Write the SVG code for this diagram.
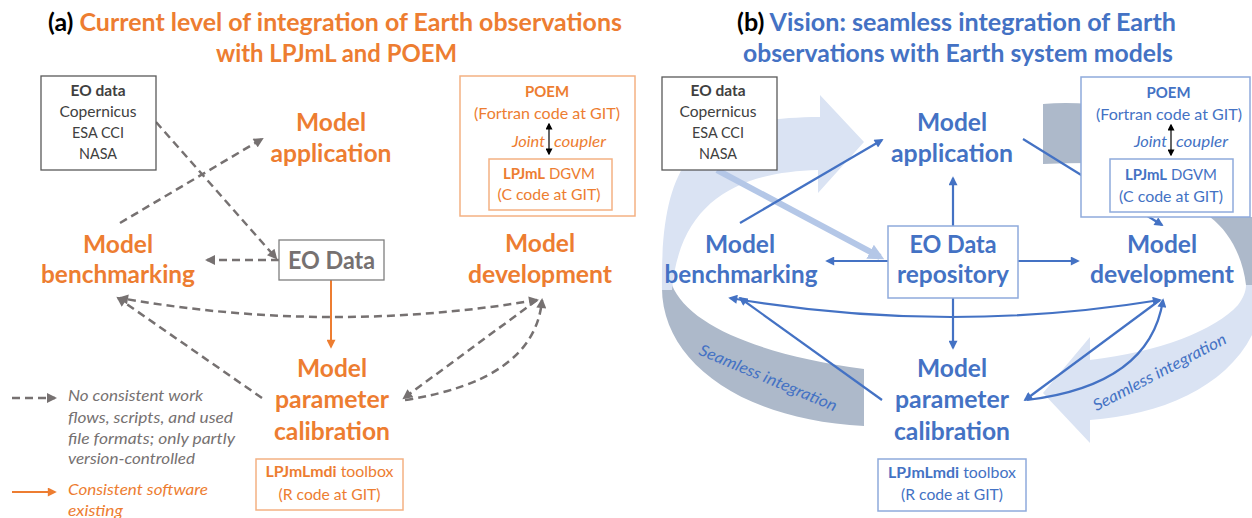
<svg xmlns="http://www.w3.org/2000/svg" width="1252" height="518" viewBox="0 0 1252 518">
<style>
text{font-family:Lato,"Liberation Sans",sans-serif}
.title{font-size:24px;font-weight:bold}
.big{font-size:24px;font-weight:bold;text-anchor:middle}
.sm{font-size:16px;text-anchor:middle}
.b{font-weight:bold}
.it{font-style:italic}
.or{fill:#ED7D31}
.bl{fill:#4472C4}
.gy{fill:#767171}
.dk{fill:#404040}
.boxg{fill:#fff;stroke:#595959;stroke-width:1.3}
.boxo{fill:#fff;stroke:#F4B183;stroke-width:1.5}
.boxb{fill:#fff;stroke:#8FAADC;stroke-width:1.5}
.dash{fill:none;stroke:#767171;stroke-width:2.5;stroke-dasharray:8 5}
.blue{fill:none;stroke:#4472C4;stroke-width:2.2}
.ringL{fill:#DAE3F3}
.ringD{fill:#ADB9CA}
</style>
<defs>
<marker id="ag" viewBox="0 0 10 10" refX="8" refY="5" markerWidth="11" markerHeight="10" markerUnits="userSpaceOnUse" orient="auto-start-reverse"><path d="M0,0 L10,5 L0,10 z" fill="#767171"/></marker>
<marker id="ao" viewBox="0 0 10 10" refX="8" refY="5" markerWidth="10" markerHeight="9" markerUnits="userSpaceOnUse" orient="auto-start-reverse"><path d="M0,0 L10,5 L0,10 z" fill="#ED7D31"/></marker>
<marker id="ab" viewBox="0 0 10 10" refX="8" refY="5" markerWidth="10" markerHeight="9" markerUnits="userSpaceOnUse" orient="auto-start-reverse"><path d="M0,0 L10,5 L0,10 z" fill="#4472C4"/></marker>
<marker id="ak" viewBox="0 0 10 10" refX="8" refY="5" markerWidth="7" markerHeight="7" markerUnits="userSpaceOnUse" orient="auto-start-reverse"><path d="M0,0 L10,5 L0,10 z" fill="#000"/></marker>
<marker id="alb" viewBox="0 0 10 10" refX="7" refY="5" markerWidth="16" markerHeight="17" markerUnits="userSpaceOnUse" orient="auto"><path d="M0,0 L10,5 L0,10 z" fill="#B4C7E7"/></marker>
</defs>
<rect width="1252" height="518" fill="#fff"/>

<!-- titles -->
<g id="title-a">
<text class="title" x="48" y="31" textLength="574" lengthAdjust="spacingAndGlyphs"><tspan fill="#000">(a)</tspan><tspan class="or"> Current level of integration of Earth observations</tspan></text>
<text class="title or" x="216" y="62" textLength="241" lengthAdjust="spacingAndGlyphs">with LPJmL and POEM</text>
</g>
<g id="title-b">
<text class="title" x="737" y="31" textLength="439" lengthAdjust="spacingAndGlyphs"><tspan fill="#000">(b)</tspan><tspan class="bl"> Vision: seamless integration of Earth</tspan></text>
<text class="title bl" x="743" y="62" textLength="430" lengthAdjust="spacingAndGlyphs">observations with Earth system models</text>
</g>

<!-- seamless integration ring (panel b) -->
<g id="ring">
<path class="ringD" d="M662,285 C660,360 740,420 864,426 L864,369 C760,355 688,325 672,285 Z"/>
<path class="ringL" d="M662,290 C660,150 700,118 820,117 L820,95 L864,142 L818,193 L818,170 C740,172 680,200 672,290 Z"/>
<path class="ringD" d="M1043,104 Q1065,102 1090,104 L1090,163 Q1065,163 1043,164 Z"/>
<path class="ringD" d="M1210,217 L1252,217 L1252,285 L1246,285 C1243,258 1230,232 1210,217 Z"/>
<path class="ringL" d="M1246,285 L1252,285 L1252,335 C1225,388 1160,415 1090,420 L1090,443 L1043,393 L1090,337 L1090,360 C1160,352 1215,330 1238,305 C1243,298 1246,292 1246,285 Z"/>
<text class="it bl" font-size="16" text-anchor="middle" transform="translate(766,383) rotate(22.8)" textLength="148" lengthAdjust="spacingAndGlyphs">Seamless integration</text>
<text class="it bl" font-size="16" text-anchor="middle" transform="translate(1162,377) rotate(-27.6)" textLength="148" lengthAdjust="spacingAndGlyphs">Seamless integration</text>
</g>

<!-- connectors -->
<g id="connectors">
<!-- panel a -->
<path class="dash" d="M156,122 L276,258" marker-end="url(#ag)"/>
<path class="dash" d="M120,223 L262,139" marker-end="url(#ag)"/>
<path class="dash" d="M279,260 L207,260" marker-end="url(#ag)"/>
<path class="dash" d="M537,300 Q330,335 120,298" marker-start="url(#ag)" marker-end="url(#ag)"/>
<path class="dash" d="M262,398 L118,298" marker-end="url(#ag)"/>
<path class="dash" d="M537,300 L404,398" marker-end="url(#ag)"/>
<path class="dash" d="M405,400 Q535,380 542,300" marker-end="url(#ag)"/>
<path d="M331,280 L331,347" stroke="#ED7D31" stroke-width="2" fill="none" marker-end="url(#ao)"/>
<!-- legend lines -->
<path class="dash" d="M12,398 L55,398" marker-end="url(#ag)"/>
<path d="M12,492 L55,492" stroke="#ED7D31" stroke-width="2" fill="none" marker-end="url(#ao)"/>
<!-- panel b -->
<path d="M717,170 L880,257" stroke="#B4C7E7" stroke-width="6" fill="none" marker-end="url(#alb)"/>
<path class="blue" d="M953,226 L953,178" marker-end="url(#ab)"/>
<path class="blue" d="M1018,261 L1078,261" marker-end="url(#ab)"/>
<path class="blue" d="M888,261 L827,261" marker-end="url(#ab)"/>
<path class="blue" d="M953,298 L953,348" marker-end="url(#ab)"/>
<path class="blue" d="M740,223 L882,140" marker-end="url(#ab)"/>
<path class="blue" d="M1023,139 L1162,225" marker-end="url(#ab)"/>
<path class="blue" d="M1160,300 Q945,335 730,298" marker-start="url(#ab)" marker-end="url(#ab)"/>
<path class="blue" d="M882,400 L740,298" marker-end="url(#ab)"/>
<path class="blue" d="M1160,300 L1025,400" marker-end="url(#ab)"/>
<path class="blue" d="M1027,400 Q1150,385 1163,300" marker-end="url(#ab)"/>
</g>

<!-- panel a nodes -->
<g id="a-eo-data">
<rect class="boxg" x="41" y="76" width="115" height="94"/>
<text class="sm b dk" x="98" y="96" textLength="55" lengthAdjust="spacingAndGlyphs">EO data</text>
<text class="sm dk" x="98" y="117" textLength="77" lengthAdjust="spacingAndGlyphs">Copernicus</text>
<text class="sm dk" x="98" y="138" textLength="52" lengthAdjust="spacingAndGlyphs">ESA CCI</text>
<text class="sm dk" x="98" y="159" textLength="38" lengthAdjust="spacingAndGlyphs">NASA</text>
</g>
<g id="a-model-application">
<text class="big or" x="331" y="131" textLength="70" lengthAdjust="spacingAndGlyphs">Model</text>
<text class="big or" x="331" y="162" textLength="121" lengthAdjust="spacingAndGlyphs">application</text>
</g>
<g id="a-poem">
<rect class="boxo" x="460" y="76" width="175" height="140"/>
<text class="sm b or" x="547" y="97" textLength="44" lengthAdjust="spacingAndGlyphs">POEM</text>
<text class="sm or" x="547" y="119" textLength="146" lengthAdjust="spacingAndGlyphs">(Fortran code at GIT)</text>
<text class="it or" font-size="16" x="545" y="147" text-anchor="end" textLength="33" lengthAdjust="spacingAndGlyphs">Joint</text>
<text class="it or" font-size="16" x="554" y="147" textLength="52" lengthAdjust="spacingAndGlyphs">coupler</text>
<path d="M549,124 L549,154" stroke="#000" stroke-width="1.2" marker-start="url(#ak)" marker-end="url(#ak)"/>
<rect class="boxo" x="489" y="159" width="123" height="51"/>
<text class="sm or" x="549" y="179" textLength="92" lengthAdjust="spacingAndGlyphs"><tspan class="b">LPJmL</tspan> DGVM</text>
<text class="sm or" x="549" y="200" textLength="103" lengthAdjust="spacingAndGlyphs">(C code at GIT)</text>
</g>
<g id="a-model-benchmarking">
<text class="big or" x="118" y="253" textLength="70" lengthAdjust="spacingAndGlyphs">Model</text>
<text class="big or" x="118" y="283" textLength="154" lengthAdjust="spacingAndGlyphs">benchmarking</text>
</g>
<g id="a-eo-data-center">
<rect x="279" y="240" width="105" height="40" fill="#fff" stroke="#7F7F7F" stroke-width="1.3"/>
<text class="big gy" x="331.5" y="269" textLength="87" lengthAdjust="spacingAndGlyphs">EO Data</text>
</g>
<g id="a-model-development">
<text class="big or" x="540" y="252" textLength="70" lengthAdjust="spacingAndGlyphs">Model</text>
<text class="big or" x="540" y="283" textLength="144" lengthAdjust="spacingAndGlyphs">development</text>
</g>
<g id="a-model-calibration">
<text class="big or" x="332" y="377" textLength="70" lengthAdjust="spacingAndGlyphs">Model</text>
<text class="big or" x="332" y="408" textLength="114" lengthAdjust="spacingAndGlyphs">parameter</text>
<text class="big or" x="332" y="440" textLength="116" lengthAdjust="spacingAndGlyphs">calibration</text>
</g>
<g id="a-lpjmlmdi">
<rect class="boxo" x="256" y="459" width="147" height="51"/>
<text class="sm or" x="329.5" y="477" textLength="128" lengthAdjust="spacingAndGlyphs"><tspan class="b">LPJmLmdi</tspan> toolbox</text>
<text class="sm or" x="329.5" y="500" textLength="102" lengthAdjust="spacingAndGlyphs">(R code at GIT)</text>
</g>
<g id="legend">
<text class="it gy" font-size="16" x="68" y="401" textLength="135" lengthAdjust="spacingAndGlyphs">No consistent work</text>
<text class="it gy" font-size="16" x="68" y="423" textLength="165" lengthAdjust="spacingAndGlyphs">flows, scripts, and used</text>
<text class="it gy" font-size="16" x="68" y="444" textLength="167" lengthAdjust="spacingAndGlyphs">file formats; only partly</text>
<text class="it gy" font-size="16" x="68" y="464" textLength="127" lengthAdjust="spacingAndGlyphs">version-controlled</text>
<text class="it or" font-size="16" x="68" y="495" textLength="140" lengthAdjust="spacingAndGlyphs">Consistent software</text>
<text class="it or" font-size="16" x="68" y="516" textLength="55" lengthAdjust="spacingAndGlyphs">existing</text>
</g>

<!-- panel b nodes -->
<g id="b-eo-data">
<rect class="boxg" x="662" y="77" width="115" height="93"/>
<text class="sm b dk" x="718" y="96" textLength="55" lengthAdjust="spacingAndGlyphs">EO data</text>
<text class="sm dk" x="718" y="117" textLength="77" lengthAdjust="spacingAndGlyphs">Copernicus</text>
<text class="sm dk" x="718" y="138" textLength="52" lengthAdjust="spacingAndGlyphs">ESA CCI</text>
<text class="sm dk" x="718" y="159" textLength="38" lengthAdjust="spacingAndGlyphs">NASA</text>
</g>
<g id="b-model-application">
<text class="big bl" x="952" y="131" textLength="70" lengthAdjust="spacingAndGlyphs">Model</text>
<text class="big bl" x="952" y="162" textLength="122" lengthAdjust="spacingAndGlyphs">application</text>
</g>
<g id="b-poem">
<rect class="boxb" x="1081" y="77" width="169" height="140"/>
<text class="sm b bl" x="1168.5" y="98" textLength="44" lengthAdjust="spacingAndGlyphs">POEM</text>
<text class="sm bl" x="1169" y="120" textLength="146" lengthAdjust="spacingAndGlyphs">(Fortran code at GIT)</text>
<text class="it bl" font-size="16" x="1167" y="147" text-anchor="end" textLength="33" lengthAdjust="spacingAndGlyphs">Joint</text>
<text class="it bl" font-size="16" x="1176" y="147" textLength="52" lengthAdjust="spacingAndGlyphs">coupler</text>
<path d="M1171,125 L1171,155" stroke="#000" stroke-width="1.2" marker-start="url(#ak)" marker-end="url(#ak)"/>
<rect class="boxb" x="1110" y="159" width="123" height="53"/>
<text class="sm bl" x="1171" y="180" textLength="92" lengthAdjust="spacingAndGlyphs"><tspan class="b">LPJmL</tspan> DGVM</text>
<text class="sm bl" x="1171" y="202" textLength="104" lengthAdjust="spacingAndGlyphs">(C code at GIT)</text>
</g>
<g id="b-model-benchmarking">
<text class="big bl" x="740" y="253" textLength="70" lengthAdjust="spacingAndGlyphs">Model</text>
<text class="big bl" x="741" y="283" textLength="153" lengthAdjust="spacingAndGlyphs">benchmarking</text>
</g>
<g id="b-eo-repository">
<rect class="boxb" x="888" y="226" width="130" height="72"/>
<text class="big bl" x="953" y="253" textLength="87" lengthAdjust="spacingAndGlyphs">EO Data</text>
<text class="big bl" x="953" y="283" textLength="112" lengthAdjust="spacingAndGlyphs">repository</text>
</g>
<g id="b-model-development">
<text class="big bl" x="1162" y="253" textLength="70" lengthAdjust="spacingAndGlyphs">Model</text>
<text class="big bl" x="1162" y="283" textLength="144" lengthAdjust="spacingAndGlyphs">development</text>
</g>
<g id="b-model-calibration">
<text class="big bl" x="952" y="377" textLength="70" lengthAdjust="spacingAndGlyphs">Model</text>
<text class="big bl" x="952" y="408" textLength="114" lengthAdjust="spacingAndGlyphs">parameter</text>
<text class="big bl" x="952" y="440" textLength="116" lengthAdjust="spacingAndGlyphs">calibration</text>
</g>
<g id="b-lpjmlmdi">
<rect class="boxb" x="878" y="459" width="148" height="52"/>
<text class="sm bl" x="952" y="478" textLength="128" lengthAdjust="spacingAndGlyphs"><tspan class="b">LPJmLmdi</tspan> toolbox</text>
<text class="sm bl" x="952" y="500" textLength="102" lengthAdjust="spacingAndGlyphs">(R code at GIT)</text>
</g>
</svg>
